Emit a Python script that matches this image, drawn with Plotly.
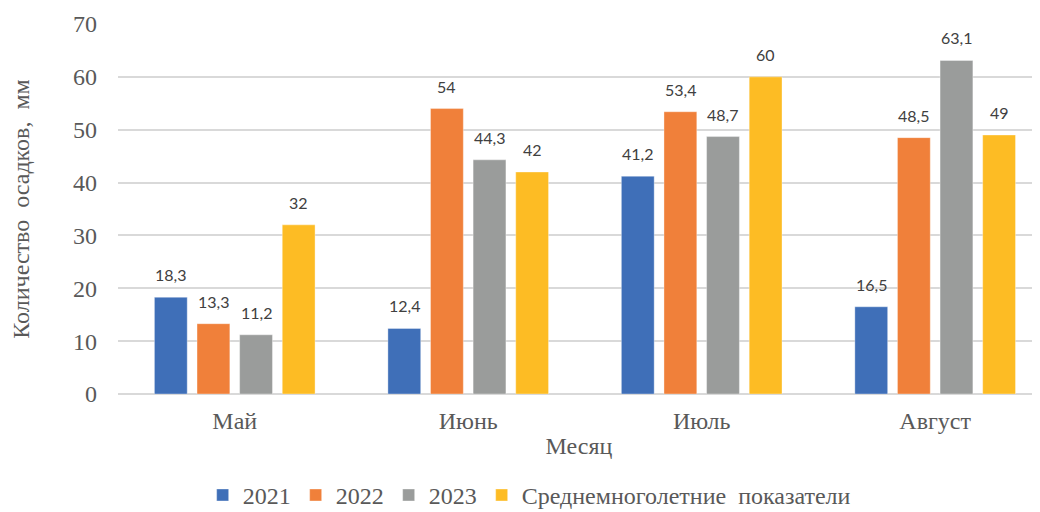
import plotly.graph_objects as go

months = ["Май", "Июнь", "Июль", "Август"]
series_names = ["2021", "2022", "2023", "Среднемноголетние  показатели"]
y2021 = [18.3, 12.4, 41.2, 16.5]
y2022 = [13.3, 54, 53.4, 48.5]
y2023 = [11.2, 44.3, 48.7, 63.1]
y_avg = [32, 42, 60, 49]
colors = ["#3F6FB8", "#F0803A", "#9A9C9B", "#FDBC24"]

all_series = [y2021, y2022, y2023, y_avg]

# page body has an 8px margin, so the figure is drawn 8px smaller
W, H = 1032, 504
left_px = 110
x_range = [-0.5, 3.449]
bargap = 0.27
cat_px = (W - left_px) / (x_range[1] - x_range[0])
slot_px = cat_px * (1 - bargap) / len(all_series)

fig = go.Figure()
for name, vals, c in zip(series_names, all_series, colors):
    fig.add_trace(go.Bar(
        x=months, y=vals, name=name,
        marker=dict(color=c, line=dict(color="rgba(255,255,255,0.35)", width=1)),
    ))

def fmt(v):
    s = f"{v:g}"
    return s.replace(".", ",")

for k, vals in enumerate(all_series):
    for i, v in enumerate(vals):
        fig.add_annotation(
            x=i, y=v, text=fmt(v), showarrow=False,
            xref="x", yref="y", yanchor="bottom",
            xshift=(k - 1.5) * slot_px, yshift=11,
            font=dict(family="Lato", size=16, color="#404040"),
        )

serif = "Liberation Serif"
grey = "#595959"

fig.update_layout(
    width=W, height=H,
    margin=dict(l=left_px, r=0, t=16, b=118, autoexpand=False),
    barmode="group", bargap=bargap, bargroupgap=0.23,
    plot_bgcolor="white", paper_bgcolor="white",
    font=dict(family=serif, size=24, color=grey),
    showlegend=True,
    legend=dict(
        orientation="h", xref="container", yref="paper",
        x=0.505, xanchor="center", y=-0.274, yanchor="middle",
        font=dict(family=serif, size=24, color=grey),
        itemwidth=30, traceorder="normal",
    ),
)

fig.update_xaxes(
    range=x_range, showgrid=False, zeroline=False, showline=False,
    ticks="", ticklabelstandoff=10, automargin=False,
    tickfont=dict(family=serif, size=24, color=grey),
    title=dict(text="Месяц", font=dict(family=serif, size=24, color=grey), standoff=4),
)
fig.update_yaxes(
    range=[0, 70], dtick=10, showgrid=True, gridcolor="#D9D9D9", gridwidth=1.5,
    zeroline=True, zerolinecolor="#D9D9D9", zerolinewidth=1.5, showline=False,
    ticks="", ticklabelstandoff=20, automargin=False,
    tickfont=dict(family=serif, size=24, color=grey),
    title=dict(text="Количество  осадков,  мм", font=dict(family=serif, size=24, color=grey), standoff=38),
)

fig.write_html("out.html")
